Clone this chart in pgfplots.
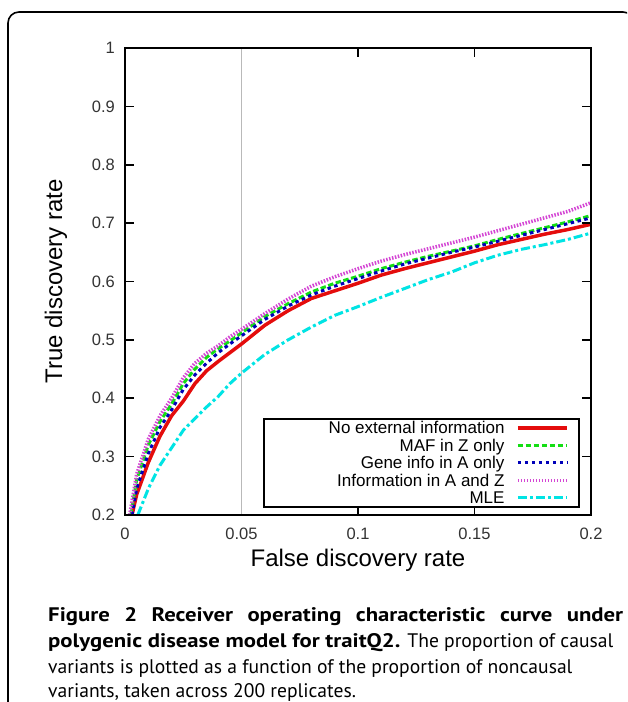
\documentclass[border=0pt]{standalone}
\usepackage{fontspec}
\setmainfont{Liberation Sans}
\newfontfamily\capfont{PT Sans}[BoldFeatures={FakeStretch=1.16}]
\usepackage{pgfplots}
\pgfplotsset{compat=1.18}
\definecolor{cRed}{RGB}{228,12,12}
\definecolor{cGreen}{RGB}{20,222,20}
\definecolor{cBlue}{RGB}{0,0,185}
\definecolor{cMag}{RGB}{212,70,212}
\definecolor{cCyan}{RGB}{0,228,228}
\definecolor{cGray}{RGB}{185,185,185}
\newcommand{\legtxt}[1]{\makebox[230pt][r]{#1}\hspace*{11.7pt}}
\begin{document}
\begin{tikzpicture}[x=1pt,y=1pt]
\useasboundingbox (0,0) rectangle (627,702);
\clip (0,0) rectangle (627,702);
\fill[white] (0,0) rectangle (627,702);
\draw[line width=1.6pt, rounded corners=11pt] (8,-30) -- (8,690) -- (634,690) -- (634,-30);
\begin{axis}[
  at={(125pt,187pt)}, anchor=south west,
  scale only axis, width=466pt, height=467pt,
  xmin=0, xmax=0.2, ymin=0.2, ymax=1,
  xtick={0,0.1,0.15,0.2}, xticklabels={0,0.1,0.15,0.2},
  extra x ticks={0.05}, extra x tick labels={0.05},
  extra x tick style={major tick length=0pt},
  ytick={0.2,0.3,0.4,0.5,0.6,0.7,0.8,0.9,1},
  yticklabels={0.2,0.3,0.4,0.5,0.6,0.7,0.8,0.9,1},
  tick align=inside, major tick length=9pt,
  every tick/.style={black, line width=1.6pt},
  axis line style={line width=1.8pt},
  axis on top,
  ticklabel style={font=\fontsize{16.5}{16.5}\selectfont, inner sep=0pt, text=black!80},
  xticklabel style={yshift=-13pt},
  yticklabel style={xshift=-10pt},
  xlabel={False discovery rate},
  xlabel style={at={(axis description cs:0.5,-0.1113)}, anchor=base, inner sep=0pt, font=\fontsize{24}{24}\selectfont},
  ylabel={True discovery rate},
  ylabel style={at={(axis description cs:-0.1352,0.5)}, anchor=base, inner sep=0pt, font=\fontsize{24}{24}\selectfont},
  legend plot pos=right,
  legend image code/.code={\draw[#1] (0pt,0pt) -- (49.3pt,0pt);},
  legend style={at={(axis description cs:1,0)}, anchor=south east, xshift=-11pt, yshift=7.3pt,
    draw=black, line width=2pt, inner sep=0pt, inner xsep=10pt, inner ysep=0pt, row sep=0pt, column sep=0pt,
    cells={anchor=west},
    nodes={inner sep=0pt, outer sep=0pt, text height=14.75pt, text depth=2.75pt},
    font=\fontsize{17}{17}\selectfont},
  every axis plot/.append style={line join=round},
]
\addplot[cGray, line width=1.5pt, forget plot] coordinates {(0.05,0.2) (0.05,1)};
\addplot[cRed, line width=3.5pt] coordinates {
(0.003,0.2) (0.005,0.235) (0.01,0.29) (0.015,0.335) (0.02,0.37) (0.025,0.395) (0.03,0.425) (0.035,0.447) (0.04,0.463) (0.045,0.478) (0.05,0.493) (0.06,0.525) (0.07,0.55) (0.08,0.571) (0.09,0.584) (0.1,0.597) (0.11,0.611) (0.12,0.622) (0.13,0.632) (0.14,0.642) (0.15,0.652) (0.16,0.663) (0.17,0.672) (0.18,0.681) (0.19,0.689) (0.2,0.698)};
\addlegendentry{\legtxt{No external information}}
\addplot[cGreen, line width=3pt, dash pattern=on 5.5pt off 2.5pt] coordinates {
(0.0025,0.2) (0.005,0.26) (0.01,0.32) (0.015,0.36) (0.02,0.39) (0.025,0.425) (0.03,0.45) (0.035,0.47) (0.04,0.485) (0.045,0.498) (0.05,0.512) (0.06,0.54) (0.07,0.562) (0.08,0.582) (0.09,0.597) (0.1,0.609) (0.11,0.622) (0.12,0.633) (0.13,0.643) (0.14,0.652) (0.15,0.661) (0.16,0.672) (0.17,0.682) (0.18,0.692) (0.19,0.702) (0.2,0.713)};
\addlegendentry{\legtxt{MAF in Z only}}
\addplot[cBlue, line width=3pt, dash pattern=on 3.5pt off 3.5pt] coordinates {
(0.003,0.2) (0.005,0.245) (0.01,0.305) (0.015,0.35) (0.02,0.38) (0.025,0.415) (0.03,0.44) (0.035,0.46) (0.04,0.478) (0.045,0.493) (0.05,0.507) (0.06,0.535) (0.07,0.558) (0.08,0.577) (0.09,0.592) (0.1,0.605) (0.11,0.618) (0.12,0.63) (0.13,0.64) (0.14,0.65) (0.15,0.659) (0.16,0.669) (0.17,0.679) (0.18,0.689) (0.19,0.699) (0.2,0.709)};
\addlegendentry{\legtxt{Gene info in A only}}
\addplot[cMag, line width=3.5pt, dash pattern=on 1.5pt off 1.5pt] coordinates {
(0.002,0.2) (0.005,0.27) (0.01,0.33) (0.015,0.37) (0.02,0.40) (0.025,0.435) (0.03,0.46) (0.035,0.477) (0.04,0.49) (0.045,0.505) (0.05,0.518) (0.06,0.545) (0.07,0.57) (0.08,0.592) (0.09,0.608) (0.1,0.622) (0.11,0.635) (0.12,0.646) (0.13,0.656) (0.14,0.666) (0.15,0.676) (0.16,0.687) (0.17,0.698) (0.18,0.709) (0.19,0.72) (0.2,0.735)};
\addlegendentry{\legtxt{Information in A and Z}}
\addplot[cCyan, line width=3pt, dash pattern=on 9pt off 3pt on 3pt off 3pt] coordinates {
(0.0055,0.2) (0.01,0.245) (0.015,0.285) (0.02,0.315) (0.025,0.345) (0.03,0.365) (0.035,0.385) (0.04,0.403) (0.045,0.425) (0.05,0.443) (0.06,0.475) (0.07,0.5) (0.08,0.522) (0.09,0.542) (0.1,0.557) (0.11,0.573) (0.12,0.588) (0.13,0.603) (0.14,0.616) (0.15,0.632) (0.16,0.645) (0.17,0.655) (0.18,0.663) (0.19,0.672) (0.2,0.683)};
\addlegendentry{\legtxt{MLE}}
\end{axis}
\node[anchor=base west, inner sep=0pt] at (48,80) {\capfont\bfseries\fontsize{19.6}{19.6}\selectfont\makebox[575pt][s]{Figure 2 Receiver operating characteristic curve under}};
\node[anchor=base west, inner sep=0pt] at (48,54) {\capfont\fontsize{19.6}{19.6}\selectfont\textbf{polygenic disease model for traitQ2.} The proportion of causal};
\node[anchor=base west, inner sep=0pt] at (48,28.5) {\capfont\fontsize{19.6}{19.6}\selectfont variants is plotted as a function of the proportion of noncausal};
\node[anchor=base west, inner sep=0pt] at (48,4.5) {\capfont\fontsize{19.6}{19.6}\selectfont variants, taken across 200 replicates.};
\end{tikzpicture}
\end{document}
